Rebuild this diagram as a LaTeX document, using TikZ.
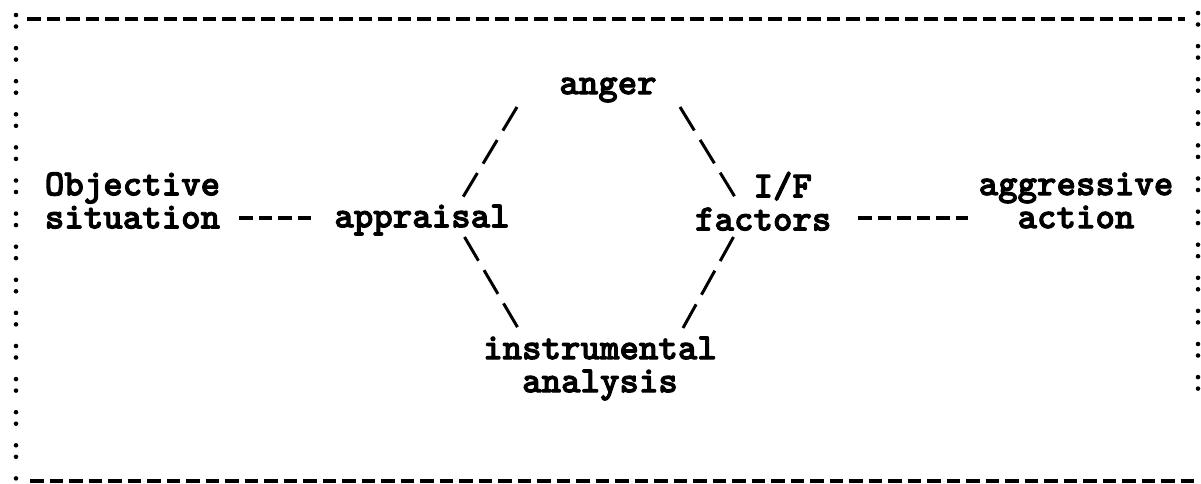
\documentclass[tikz,border=0pt]{standalone}
\usepackage{fontspec}
\newfontfamily\typer{lmmonolt10-bold.otf}[FakeBold=2.5]
\usetikzlibrary{positioning}

\tikzset{
  term/.style={font=\typer\fontsize{21.1}{18.8}\selectfont, align=center},
  slope/.style={line width=1.7pt, dash pattern=on 0.55cm off 0.22cm},
  hyphens/.style={line width=1.9pt, dash pattern=on 0.27cm off 0.12cm},
  rule/.style={line width=1.9pt, dash pattern=on 0.27cm off 0.12cm},
  colons/.style={line width=2.6pt, line cap=round, dash pattern=on 0pt off 0.23cm on 0pt off 0.432cm}
}

\begin{document}
\begin{tikzpicture}
\useasboundingbox (0,0) rectangle (24.02,9.66);
% typed frame
\draw[rule] (0.54,9.28) -- (23.70,9.28);
\draw[rule] (0.60,0.04) -- (23.90,0.04);
\draw[colons] (0.32,9.36) -- (0.32,0);
\draw[colons] (23.96,9.40) -- (23.96,1.80);

\node[term] (obj) at (2.65,5.65) {Objective\\situation};
\node[term] (appr) at (8.44,5.26) {appraisal};
\node[term] (anger) at (12.16,7.86) {anger};
\node[term, align=left] (iff) at (15.265,5.635) {\phantom{fac}I/F\\factors};
\node[term] (agg) at (21.52,5.65) {aggressive\\action};
\node[term] (instr) at (12.0,2.29) {instrumental\\analysis};
\coordinate (row) at (0,5.30);

\draw[hyphens, shorten <=0.26cm, shorten >=0.25cm] (obj.east |- row) -- (appr.west |- row);
\draw[hyphens, shorten <=0.41cm, shorten >=0.08cm] (iff.east |- row) -- (agg.west |- row);
\draw[slope] ([shift={(-1.82,-0.34)}]anger.center) -- ([shift={(0.82,0.46)}]appr.center);
\draw[slope] ([shift={(1.44,-0.34)}]anger.center) -- ([shift={(-0.565,0.085)}]iff.center);
\draw[slope] ([shift={(0.85,-0.34)}]appr.center) -- ([shift={(-1.64,0.81)}]instr.center);
\draw[slope] ([shift={(-0.595,-0.715)}]iff.center) -- ([shift={(1.66,0.81)}]instr.center);
\end{tikzpicture}
\end{document}
